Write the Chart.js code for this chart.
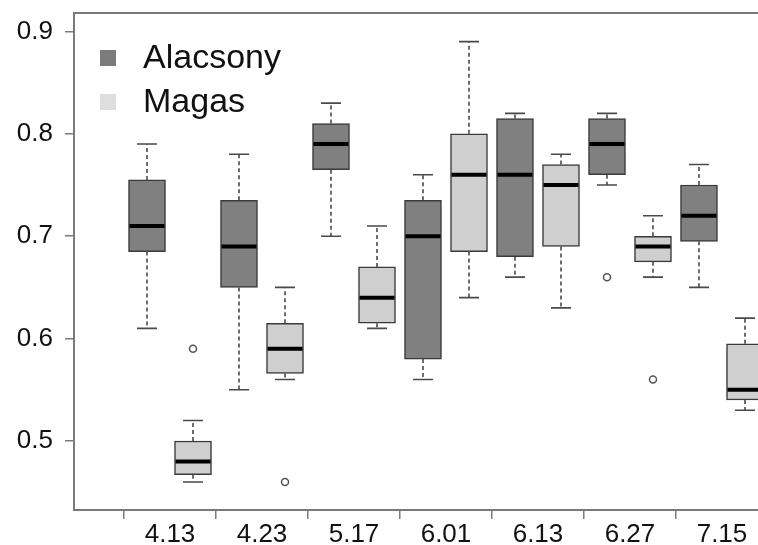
<!DOCTYPE html>
<html>
<head>
<meta charset="utf-8">
<script src="https://cdn.jsdelivr.net/npm/chart.js@4.4.1/dist/chart.umd.min.js"></script>
<style>
  html, body { margin: 0; padding: 0; background: #fff; overflow: hidden; }
  #wrap { width: 758px; height: 545px; position: relative; }
</style>
</head>
<body>
<div id="wrap"><canvas id="boxChart" width="758" height="545"></canvas></div>
<script>
const categories = ["4.13", "4.23", "5.17", "6.01", "6.13", "6.27", "7.15"];
const seriesNames = ["Alacsony", "Magas"];
const yTicks = [0.5, 0.6, 0.7, 0.8, 0.9];

const alacsonyMin = [0.61, 0.55, 0.70, 0.56, 0.66, 0.75, 0.65];
const alacsonyQ1 = [0.685, 0.65, 0.765, 0.58, 0.68, 0.76, 0.695];
const alacsonyMedian = [0.71, 0.69, 0.79, 0.70, 0.76, 0.79, 0.72];
const alacsonyQ3 = [0.755, 0.735, 0.81, 0.735, 0.815, 0.815, 0.75];
const alacsonyMax = [0.79, 0.78, 0.83, 0.76, 0.82, 0.82, 0.77];
const alacsonyOutliers = [[], [], [], [], [], [0.66], []];

const magasMin = [0.46, 0.56, 0.61, 0.64, 0.63, 0.66, 0.53];
const magasQ1 = [0.467, 0.566, 0.615, 0.685, 0.69, 0.675, 0.54];
const magasMedian = [0.48, 0.59, 0.64, 0.76, 0.75, 0.69, 0.55];
const magasQ3 = [0.50, 0.615, 0.67, 0.80, 0.77, 0.70, 0.595];
const magasMax = [0.52, 0.65, 0.71, 0.89, 0.78, 0.72, 0.62];
const magasOutliers = [[0.59], [0.46], [], [], [], [0.56], []];

const BOX_W = 37;
const darkFill = "#808080";
const lightFill = "#cfcfcf";

// box position: Alacsony at 1,3,5..., Magas at 2,4,6...
const series = [
  { name: seriesNames[0], offset: 1, fill: darkFill, legend: "#7b7b7b",
    min: alacsonyMin, q1: alacsonyQ1, med: alacsonyMedian, q3: alacsonyQ3, max: alacsonyMax, out: alacsonyOutliers },
  { name: seriesNames[1], offset: 2, fill: lightFill, legend: "#dedede",
    min: magasMin, q1: magasQ1, med: magasMedian, q3: magasQ3, max: magasMax, out: magasOutliers },
];

const boxDatasets = series.map((s) => ({
  type: "bar",
  label: s.name,
  data: categories.map((c, i) => ({ x: 2 * i + s.offset, y: [s.q1[i], s.q3[i]] })),
  backgroundColor: s.fill,
  borderColor: "#3a3a3a",
  borderWidth: 1.5,
  borderSkipped: false,
  barThickness: BOX_W,
  grouped: false,
  clip: false,
}));

const outlierDatasets = series.map((s) => ({
  type: "scatter",
  label: s.name + " outliers",
  data: categories.flatMap((c, i) => s.out[i].map((v) => ({ x: 2 * i + s.offset, y: v }))),
  pointRadius: 3.5,
  pointBorderWidth: 1.5,
  pointBorderColor: "#555",
  pointBackgroundColor: "#fff",
}));

const boxPlotExtras = {
  id: "boxPlotExtras",
  afterDatasetsDraw(chart) {
    const { ctx, scales: { x, y } } = chart;
    ctx.save();
    series.forEach((s) => {
      categories.forEach((c, i) => {
        const px = x.getPixelForValue(2 * i + s.offset);
        const capHalf = 10;
        // whiskers
        ctx.strokeStyle = "#4a4a4a";
        ctx.lineWidth = 1.6;
        ctx.setLineDash([4, 3]);
        ctx.beginPath();
        ctx.moveTo(px, y.getPixelForValue(s.q3[i]));
        ctx.lineTo(px, y.getPixelForValue(s.max[i]));
        ctx.moveTo(px, y.getPixelForValue(s.q1[i]));
        ctx.lineTo(px, y.getPixelForValue(s.min[i]));
        ctx.stroke();
        ctx.setLineDash([]);
        ctx.beginPath();
        ctx.moveTo(px - capHalf, y.getPixelForValue(s.max[i]));
        ctx.lineTo(px + capHalf, y.getPixelForValue(s.max[i]));
        ctx.moveTo(px - capHalf, y.getPixelForValue(s.min[i]));
        ctx.lineTo(px + capHalf, y.getPixelForValue(s.min[i]));
        ctx.stroke();
        // median
        ctx.strokeStyle = "#000";
        ctx.lineWidth = 4;
        ctx.beginPath();
        ctx.moveTo(px - BOX_W / 2 + 1, y.getPixelForValue(s.med[i]));
        ctx.lineTo(px + BOX_W / 2 - 1, y.getPixelForValue(s.med[i]));
        ctx.stroke();
      });
    });
    ctx.restore();
  },
  afterDraw(chart) {
    const { ctx, chartArea } = chart;
    ctx.save();
    // plot frame (right side runs off the picture)
    ctx.strokeStyle = "#7a7a7a";
    ctx.lineWidth = 2;
    ctx.beginPath();
    ctx.moveTo(chartArea.right, chartArea.top);
    ctx.lineTo(chartArea.left, chartArea.top);
    ctx.lineTo(chartArea.left, chartArea.bottom);
    ctx.lineTo(chartArea.right, chartArea.bottom);
    ctx.stroke();
    // legend
    ctx.font = "34px 'Liberation Sans', Arial, sans-serif";
    ctx.textBaseline = "middle";
    series.forEach((s, k) => {
      const cy = chartArea.top + 45 + k * 44;
      ctx.fillStyle = s.legend;
      ctx.fillRect(chartArea.left + 26, cy - 8, 16, 16);
      ctx.fillStyle = "#111";
      ctx.fillText(s.name, chartArea.left + 69, cy + 1);
    });
    ctx.restore();
  },
};

new Chart(document.getElementById("boxChart"), {
  data: { datasets: [...boxDatasets, ...outlierDatasets] },
  options: {
    responsive: false,
    animation: false,
    layout: { autoPadding: false, padding: { top: 13, left: 0, right: 0, bottom: 0 } },
    plugins: {
      legend: { display: false },
      tooltip: { enabled: false },
    },
    scales: {
      x: {
        type: "linear",
        offset: false,
        min: -0.587,
        max: 14.283,
        afterBuildTicks: (scale) => {
          scale.ticks = categories.map((c, i) => ({ value: 2 * i + 1.5 }));
        },
        afterFit: (scale) => {
          scale.height = 35;
          scale.paddingLeft = 0;
          scale.paddingRight = 0;
        },
        ticks: {
          callback: (v, i) => categories[i],
          color: "#111",
          font: { family: "'Liberation Sans', Arial, sans-serif", size: 26 },
          padding: 0,
          maxRotation: 0,
          autoSkip: false,
        },
        grid: {
          offset: true,
          drawOnChartArea: false,
          tickLength: 9,
          color: "#7a7a7a",
          lineWidth: 1.5,
        },
        border: { display: false },
      },
      y: {
        min: 0.4326,
        max: 0.918,
        afterBuildTicks: (scale) => {
          scale.ticks = yTicks.map((v) => ({ value: v }));
        },
        afterFit: (scale) => {
          scale.width = 74;
          scale.paddingTop = 0;
          scale.paddingBottom = 0;
        },
        ticks: {
          callback: (v) => v.toFixed(1),
          color: "#111",
          font: { family: "'Liberation Sans', Arial, sans-serif", size: 26 },
          padding: 12,
        },
        grid: {
          drawOnChartArea: false,
          tickLength: 9,
          color: "#7a7a7a",
          lineWidth: 1.5,
        },
        border: { display: false },
      },
    },
  },
  plugins: [boxPlotExtras],
});
</script>
</body>
</html>
